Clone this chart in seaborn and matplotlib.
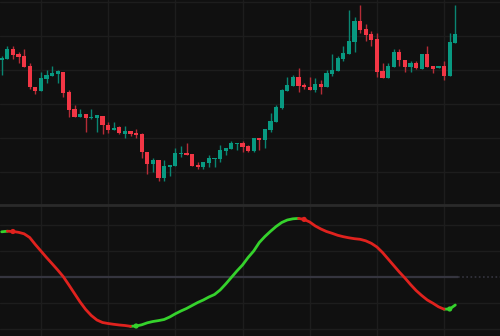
import numpy as np
import pandas as pd
import matplotlib
matplotlib.use("Agg")
import matplotlib.pyplot as plt
import seaborn as sns

# ---- candle data (price units) ----
opens = [145.7,147.3,156.7,152,150,139.7,119.3,115.3,127,130,
         132.3,134.3,114.3,97,89.3,92,87.7,88.3,90.3,81.3,
         76,78.7,72.3,75,73,71.7,54.3,42,46,28.3,
         39.3,40,52,53,51.7,41.3,38.7,43,47,47,
         55,57.3,62,62.7,60,55.3,68,66,76,84.3,
         97.7,115.3,120,129,121.3,119.3,116.3,122.3,118.7,132,
         135.3,147,152.3,164.3,185,177,172.3,166.7,134.7,128.3,
         139.3,154.3,146,139.3,142.7,137,151.7,139.7,137.7,139.7,
         130,163.3]
closes = [148.3,157,151,149.3,139.3,119,115,127.7,130.7,133,
          134.7,113.3,96,89.3,92,88.3,89.3,90.7,80.7,76,
          78.3,72.7,75,72.3,71,54,42.3,46,28.3,40,
          41.3,53,53,51,40,39.3,43.7,48,48,56,
          58,62.7,63,59.3,55.3,68,66,77,85,98.7,
          116,121,129,120,118.7,116.3,122.3,118.7,133.3,136,
          148,153,165,185,176,171,166,134,128.3,139.7,
          154.3,145.7,139.3,142.7,137.7,151.7,139.3,137,139.7,130.3,
          163.7,172]
highs = [150,160,160,154.3,156.7,142.7,119.3,134.3,136,139.7,
         136,134.3,116,101,97,92,97,90.7,90.3,84,
         84,80,80,75,77,73.3,54.3,48,46,46,
         41.3,58.3,60,62.7,51.7,43.7,43.7,51.3,48,61.3,
         58,65,63,65,61.3,68,68,77,93.3,100.7,
         116.7,129,131,138,122.7,129,128,126,136,151.7,
         150,160,196,189,201,182,175.3,173.3,142.7,142.7,
         157,157,146,145,145,151.7,160,139.7,139.7,145,
         173.3,201]
lows = [131,147.3,146.7,142.7,139.3,117,112.3,115.3,122.7,130,
        122.7,109.3,89.3,89.3,88.7,74.3,86.7,74.3,71.7,73.3,
        76,71.7,68.3,70,68.3,48,32.3,34,25.3,25.3,
        30.3,40,49.3,51,40,37,37,39.3,39.3,44.3,
        51.3,57.3,56,54.3,54.3,54.3,56,58.3,74.3,84.3,
        97,115.3,120,114.3,117.3,116.3,114.3,112,118.7,130.3,
        135.3,145,152.3,154.3,173.3,165.3,160.3,129.3,128.3,128.3,
        139.3,139.7,134.3,134.3,137,137,139.3,133.3,137.7,126,
        130,163.3]

# ---- oscillator values ----
osc = [45.2,45.8,45.5,44.7,43.2,39.5,32.5,26,19.5,13.3,
       7,0.3,-8,-16.5,-25,-32.5,-38.5,-43,-45.5,-46.5,
       -47.3,-48,-48.5,-49.3,-49.0,-47.8,-45.8,-44.5,-43.6,-42.5,
       -40,-36.8,-34,-31.5,-28.5,-25.5,-23,-20,-17.5,-13,
       -7,-0.5,6,12,19.5,26,34.5,40.5,45.7,50.5,
       54.5,57,58.2,58.6,57.6,55,51,48,45.5,43.7,
       41.7,40.3,39.2,38.3,37.7,36.2,33.7,30,24.5,18,
       11.5,5,-1,-7.5,-13.5,-18.5,-23,-26.2,-29.8,-32.2,
       -32.0,-28]

BG = "#101010"
GRID = "#1d1d1d"
UP, DOWN = "#089981", "#f23645"
UP_W, DOWN_W = "#0a8571", "#b52c37"
OSC_UP, OSC_DN = "#35d22c", "#e0221e"

sns.set_style("dark", rc={"axes.facecolor": BG, "figure.facecolor": BG,
                          "grid.color": GRID})

n = len(opens)
idx = np.arange(n)
o = np.array(opens); c = np.array(closes)
h = np.array(highs); l = np.array(lows)
up = c >= o

fig = plt.figure(figsize=(5, 3.36), dpi=100)
ax1 = fig.add_axes([0, 131/336, 1, 205/336])
ax2 = fig.add_axes([0, 0, 1, 131/336])

xlim = (-0.304, 88.98)
vgrid = [7, 19, 31, 43, 55, 67, 79]

# ---- candles ----
wick_cols = np.where(up, UP_W, DOWN_W)
ax1.vlines(idx, l, h, colors=wick_cols, lw=1, zorder=2)
body_bottom = np.minimum(o, c)
body_h = np.maximum(np.abs(c - o), 1.0)
ax1.bar(idx, body_h, bottom=body_bottom, width=0.72,
        color=np.where(up, UP, DOWN), linewidth=0, zorder=3)
ax1.set_xlim(*xlim)
ax1.set_ylim(1, 206)
ax1.set_yticks([34, 68, 102, 136, 170, 204])
ax1.set_xticks(vgrid)

# ---- oscillator ----
dirs = ["up" if osc[i+1] > osc[i] else "down" for i in range(n-1)]
rows = []
run = 0
for i in range(n-1):
    if i > 0 and dirs[i] != dirs[i-1]:
        run += 1
    rows.append((i, osc[i], run, dirs[i]))
    rows.append((i+1, osc[i+1], run, dirs[i]))
df = pd.DataFrame(rows, columns=["idx", "val", "run", "dir"])

ax2.hlines(0, xlim[0], 81.5, color="#35353f", lw=1.6, zorder=1)
ax2.hlines(0, 81.5, xlim[1], color="#35353f", lw=1.2, linestyle=(0, (1, 1.5)), zorder=1)

sns.lineplot(data=df, x="idx", y="val", units="run", hue="dir",
             palette={"up": OSC_UP, "down": OSC_DN}, estimator=None,
             sort=False, lw=2, legend=False, ax=ax2, zorder=3)

turn_idx = [i+1 for i in range(1, n-1) if dirs[i] != dirs[i-1]]
dots = pd.DataFrame({"idx": turn_idx,
                     "val": [osc[i] for i in turn_idx],
                     "dir": [dirs[i] for i in turn_idx]})
sns.scatterplot(data=dots, x="idx", y="val", hue="dir",
                palette={"up": OSC_UP, "down": OSC_DN}, s=14,
                linewidth=0, legend=False, ax=ax2, zorder=4)

ax2.set_xlim(*xlim)
ax2.set_ylim(-59, 72)
ax2.set_yticks([-52, -26, 26, 52])
ax2.set_xticks(vgrid)

for ax in (ax1, ax2):
    ax.grid(True, color=GRID, lw=1)
    ax.set_axisbelow(True)
    ax.set_xticklabels([])
    ax.set_yticklabels([])
    ax.tick_params(length=0)
    ax.set_xlabel("")
    ax.set_ylabel("")
    for s in ax.spines.values():
        s.set_visible(False)

ax2.spines["top"].set_visible(True)
ax2.spines["top"].set_color("#2a2a2a")
ax2.spines["top"].set_linewidth(2)

fig.savefig("out.png", dpi=100, facecolor=BG)
